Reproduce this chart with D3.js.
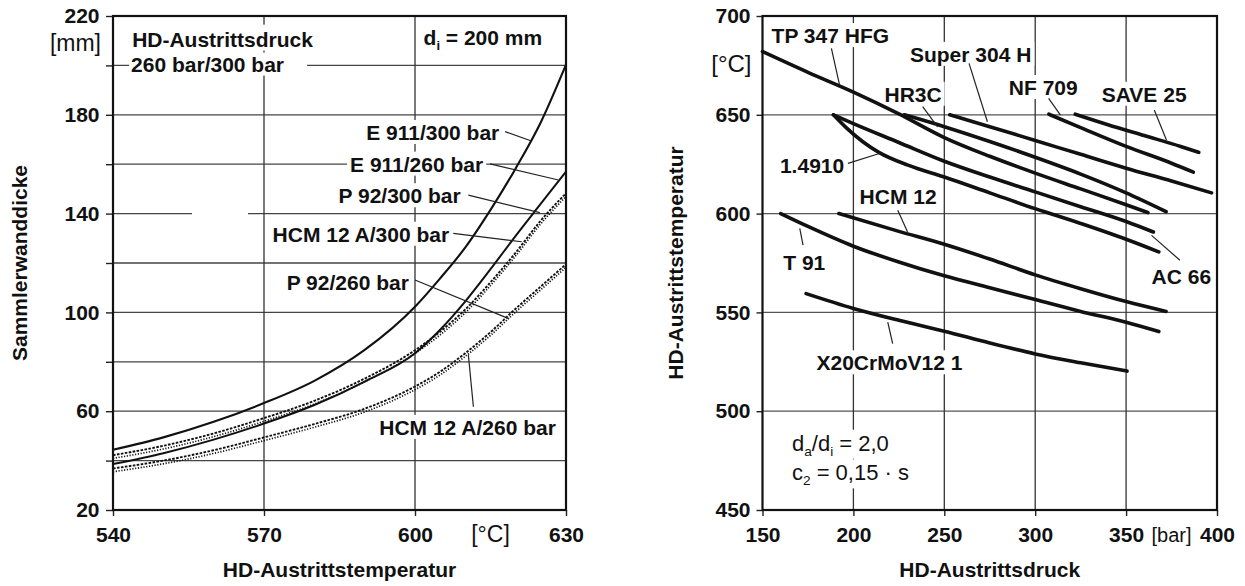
<!DOCTYPE html>
<html><head><meta charset="utf-8">
<script src="https://cdn.jsdelivr.net/npm/d3@7"></script>
<style>
body{margin:0;background:#fff;}
svg{display:block;}
text{font-family:"Liberation Sans",Arial,Helvetica,sans-serif;fill:#111;}
</style></head><body>
<svg id="c" width="1245" height="586"></svg>
<script>
// ---------- LEFT CHART DATA (wall thickness vs. temperature) ----------
const tempC      = [540, 550, 560, 570, 580, 590, 600, 605, 610, 615, 620, 625, 630];
const e911_300   = [44.4, 49.4, 55.7, 63.3, 72.3, 84.8, 102.3, 113.8, 126.3, 141.5, 158.3, 177, 200.3];
const e911_260   = [38.6, 43, 48.5, 55, 62.5, 72, 83.5, 93, 104.5, 117.5, 131, 144, 157];
const p92_300    = [42.2, 46, 51, 57.2, 64.2, 73.2, 84.7, 92.2, 101.2, 112.2, 124.2, 137.2, 148.2];
const hcm12a_300 = [40.9, 44.7, 49.7, 55.9, 62.9, 71.9, 83.4, 90.9, 99.9, 110.9, 122.9, 135.9, 146.9];
const p92_260    = [36.8, 40, 44.2, 49.4, 54.8, 61, 70, 76, 83.5, 92, 101.5, 110.5, 119.5];
const hcm12a_260 = [35.5, 38.7, 42.9, 48.1, 53.5, 59.7, 68.7, 74.7, 82.2, 90.7, 100.2, 109.2, 118.2];
const leftYTicks  = [20, 40, 60, 80, 100, 120, 140, 160, 180, 200, 220];
const leftYLabels = [20, 60, 100, 140, 180, 220];
const leftXTicks  = [540, 570, 600, 630];

// ---------- RIGHT CHART DATA (temperature vs. pressure) ----------
const tp347_p = [150, 175, 200, 225, 250, 275, 300, 325, 350, 362];
const tp347_T = [682, 671.5, 661.5, 650.5, 638.5, 629, 620.5, 612.5, 604.5, 600.5];
const hr3c_p  = [228, 250, 275, 300, 325, 350, 372];
const hr3c_T  = [650, 644, 636.5, 628.5, 620, 610.5, 601];
const ac66_p  = [189, 200, 225, 250, 275, 300, 325, 350, 365];
const ac66_T  = [650, 645.5, 636, 626.5, 618.5, 611, 603.5, 596, 590.7];
const m14910_p = [189, 196, 205, 214, 230, 250, 275, 300, 325, 350, 368];
const m14910_T = [650, 643.5, 636.5, 631, 624.5, 618.5, 610.5, 602.5, 595, 587, 580.6];
const s304_p  = [253, 275, 300, 325, 350, 375, 397];
const s304_T  = [650, 644, 637, 630, 623, 616.5, 610.5];
const nf709_p = [307.5, 325, 350, 375, 387];
const nf709_T = [650.3, 643.5, 634, 625.5, 621];
const save25_p = [322, 340, 360, 380, 390];
const save25_T = [650.3, 645, 639.5, 634, 631];
const hcm12_p = [192, 225, 250, 275, 300, 325, 350, 372];
const hcm12_T = [600, 591, 584.5, 577, 569, 562, 555.5, 550.5];
const t91_p   = [160, 175, 200, 225, 250, 275, 300, 325, 350, 368];
const t91_T   = [600, 593.5, 583.5, 575.5, 568.5, 562.5, 556.5, 550.5, 545, 540.3];
const x20_p   = [174, 200, 225, 250, 275, 300, 325, 350.5];
const x20_T   = [559.5, 552, 546, 540.5, 534.5, 529, 524.5, 520.3];
const rightYTicks = [450, 500, 550, 600, 650, 700];
const rightXTicks = [150, 200, 250, 300, 350, 400];

// ---------- ANNOTATIONS (data units) ----------
const leftLabels = [
  {t:"E 911/300 bar", x:590.3, y:169.8, px:[617.9,173.2,623.0,169.5]},
  {t:"E 911/260 bar", x:587.1, y:157.0, px:[614.9,160.1,628.5,153.6]},
  {t:"P 92/300 bar", x:584.8, y:144.2, px:[610.6,147.5,624.8,140.4]},
  {t:"HCM 12 A/300 bar", x:571.7, y:128.6, px:[607.6,132.0,621.2,128.6]},
  {t:"P 92/260 bar", x:574.5, y:109.1, px:[600.0,113.1,618.5,97.6]},
  {t:"HCM 12 A/260 bar", x:592.9, y:50.4, px:[611.6,61.8,610.6,82.8]}
];
const rightLabels = [
  {t:"TP 347 HFG", x:155, y:686.3, px:[187.9,683.6,192.4,665]},
  {t:"Super 304 H", x:231.1, y:676.8, px:[263.6,676,273.7,646.5]},
  {t:"NF 709", x:285.5, y:660, px:[307.4,658.3,313.9,649.8]},
  {t:"SAVE 25", x:336.6, y:656.6, px:[365.5,652.4,372.2,637.2]},
  {t:"HR3C", x:217.1, y:656.6, px:[238.1,654.1,246.3,643.9]},
  {t:"1.4910", x:159.6, y:620.3, px:[197,625.4,214.3,630.4]},
  {t:"HCM 12", x:203.4, y:605.1, px:[224.4,601.7,229.8,590.7]},
  {t:"T 91", x:161.4, y:571.3, px:[172.3,584,170.5,592.5]},
  {t:"X20CrMoV12 1", x:179.7, y:520.7, px:[221.6,534.2,218.9,545.1]},
  {t:"AC 66", x:364, y:564.6, px:[379.6,576.4,364,589]}
];

const svg = d3.select("#c");
const FONT = 21;

// scales
const xL = d3.scaleLinear().domain([540, 630]).range([113, 566]);
const yL = d3.scaleLinear().domain([20, 220]).range([510, 16]);
const xR = d3.scaleLinear().domain([150, 400]).range([762.5, 1217]);
const yR = d3.scaleLinear().domain([450, 700]).range([510, 16]);

const L = {
  grid: svg.append("g"),
  bg: svg.append("g"),
  curves: svg.append("g"),
  ptr: svg.append("g"),
  txt: svg.append("g"),
  frame: svg.append("g")
};

function addText(layer, bgLayer, x, y, parts, opts){
  opts = opts || {};
  const size = opts.size || FONT;
  const t = layer.append("text").attr("x", x).attr("y", y)
    .attr("font-size", size)
    .attr("font-weight", opts.weight || "bold")
    .attr("text-anchor", opts.anchor || "start");
  let shifted = 0;
  parts.forEach(p => {
    const sp = t.append("tspan").text(p.t);
    if (p.sub) { sp.attr("font-size", size*0.62).attr("dy", 5 - shifted); shifted = 5; }
    else if (shifted) { sp.attr("dy", -shifted); shifted = 0; }
  });
  if (bgLayer && opts.bg !== false){
    const b = t.node().getBBox();
    const pad = opts.pad || [3,1,3,0];
    bgLayer.append("rect").attr("x", b.x - pad[0]).attr("y", b.y - pad[1])
      .attr("width", b.width + pad[0] + pad[2]).attr("height", b.height + pad[1] + pad[3])
      .attr("fill", "#fff");
  }
  return t;
}

function styleAxis(a){
  a.select(".domain").remove();
  a.selectAll("line").attr("stroke", "#222").attr("stroke-width", 1.4);
  a.selectAll("text").attr("font-size", FONT).attr("font-weight", "bold").attr("fill", "#111")
    .attr("font-family", '"Liberation Sans",Arial,sans-serif');
}

// ================= LEFT CHART =================
L.grid.selectAll(".hl").data(leftYTicks.filter(d => d > 20 && d < 220)).join("line")
  .attr("x1", xL(540)).attr("x2", xL(630)).attr("y1", d => yL(d)).attr("y2", d => yL(d))
  .attr("stroke", "#444").attr("stroke-width", 1.3);
L.grid.selectAll(".vl").data([570, 600]).join("line")
  .attr("x1", d => xL(d)).attr("x2", d => xL(d)).attr("y1", yL(220)).attr("y2", yL(20))
  .attr("stroke", "#333").attr("stroke-width", 1.3);
// small gap in the 140 gridline (as in the scan)
L.bg.append("rect").attr("x", 192).attr("y", yL(140) - 3).attr("width", 56).attr("height", 6).attr("fill", "#fff");

const axL = L.frame.append("g").attr("transform", `translate(${xL(540)},0)`)
  .call(d3.axisLeft(yL).tickValues(leftYTicks).tickSize(7).tickPadding(6.5)
    .tickFormat(d => leftYLabels.includes(d) ? d : ""));
const axLB = L.frame.append("g").attr("transform", `translate(0,${yL(20)})`)
  .call(d3.axisBottom(xL).tickValues(leftXTicks).tickSize(6).tickPadding(11).tickFormat(d => d));
styleAxis(axL); styleAxis(axLB);

const lineL = d3.line().x((d, i) => xL(tempC[i])).y(d => yL(d)).curve(d3.curveMonotoneX);
const leftSeries = [
  {v: e911_300, w: 2.1, dash: null},
  {v: e911_260, w: 2.0, dash: null},
  {v: p92_300, w: 1.9, dash: "2.6,1.4"},
  {v: hcm12a_300, w: 1.7, dash: "1.2,1.6"},
  {v: p92_260, w: 1.9, dash: "2.6,1.4"},
  {v: hcm12a_260, w: 1.7, dash: "1.2,1.6"}
];
L.curves.selectAll("path").data(leftSeries).join("path")
  .attr("d", d => lineL(d.v)).attr("fill", "none").attr("stroke", "#111")
  .attr("stroke-width", d => d.w).attr("stroke-dasharray", d => d.dash);

leftLabels.forEach(l => {
  addText(L.txt, L.bg, xL(l.x), yL(l.y), [{t:l.t}]);
  L.ptr.append("line").attr("x1", xL(l.px[0])).attr("y1", yL(l.px[1]))
    .attr("x2", xL(l.px[2])).attr("y2", yL(l.px[3])).attr("stroke", "#222").attr("stroke-width", 1.2);
});
addText(L.txt, L.bg, xL(543.8), yL(207.6), [{t:"HD-Austrittsdruck"}], {pad:[4,3,5,0]});
addText(L.txt, L.bg, xL(543.6), yL(197.5), [{t:"260 bar/300 bar"}], {pad:[2,0,23,0]});
addText(L.txt, L.bg, xL(601.7), yL(208.3), [{t:"d"},{t:"i",sub:true},{t:" = 200 mm"}]);
addText(L.txt, null, xL(540) - 12, yL(220) + 35, [{t:"[mm]"}], {weight:"normal", anchor:"end", size:23});
addText(L.txt, null, xL(615), yL(20) + 32, [{t:"[°C]"}], {weight:"normal", anchor:"middle", size:23});
L.txt.append("text").attr("transform", `translate(27,${(yL(20)+yL(220))/2}) rotate(-90)`)
  .attr("text-anchor", "middle").attr("font-size", FONT).attr("font-weight", "bold").text("Sammlerwanddicke");
L.txt.append("text").attr("x", (xL(540)+xL(630))/2).attr("y", 577)
  .attr("text-anchor", "middle").attr("font-size", FONT).attr("font-weight", "bold").text("HD-Austrittstemperatur");
L.frame.append("rect").attr("x", xL(540)).attr("y", yL(220)).attr("width", xL(630)-xL(540)).attr("height", yL(20)-yL(220))
  .attr("fill", "none").attr("stroke", "#111").attr("stroke-width", 2.2);

// ================= RIGHT CHART =================
L.grid.selectAll(".hr").data(rightYTicks.filter(d => d > 450 && d < 700)).join("line")
  .attr("x1", xR(150)).attr("x2", xR(400)).attr("y1", d => yR(d)).attr("y2", d => yR(d))
  .attr("stroke", "#555").attr("stroke-width", 1.2);
L.grid.selectAll(".vr").data(rightXTicks.filter(d => d > 150 && d < 400)).join("line")
  .attr("x1", d => xR(d)).attr("x2", d => xR(d)).attr("y1", yR(700)).attr("y2", yR(450))
  .attr("stroke", "#333").attr("stroke-width", 1.3);

const axR = L.frame.append("g").attr("transform", `translate(${xR(150)},0)`)
  .call(d3.axisLeft(yR).tickValues(rightYTicks).tickSize(6).tickPadding(6).tickFormat(d => d));
const axRB = L.frame.append("g").attr("transform", `translate(0,${yR(450)})`)
  .call(d3.axisBottom(xR).tickValues(rightXTicks).tickSize(6).tickPadding(11).tickFormat(d => d));
styleAxis(axR); styleAxis(axRB);

const lineR = d3.line().curve(d3.curveMonotoneX);
const rightSeries = [
  [tp347_p, tp347_T], [hr3c_p, hr3c_T], [ac66_p, ac66_T], [m14910_p, m14910_T],
  [s304_p, s304_T], [nf709_p, nf709_T], [save25_p, save25_T],
  [hcm12_p, hcm12_T], [t91_p, t91_T], [x20_p, x20_T]
];
L.curves.selectAll(".rs").data(rightSeries).join("path")
  .attr("d", d => lineR(d[0].map((p, i) => [xR(p), yR(d[1][i])])))
  .attr("fill", "none").attr("stroke", "#111").attr("stroke-width", 3.6).attr("stroke-linecap", "round");

rightLabels.forEach(l => {
  addText(L.txt, L.bg, xR(l.x), yR(l.y), [{t:l.t}]);
  L.ptr.append("line").attr("x1", xR(l.px[0])).attr("y1", yR(l.px[1]))
    .attr("x2", xR(l.px[2])).attr("y2", yR(l.px[3])).attr("stroke", "#222").attr("stroke-width", 1.2);
});
addText(L.txt, L.bg, xR(166.2), yR(480), [{t:"d"},{t:"a",sub:true},{t:"/d"},{t:"i",sub:true},{t:" = 2,0"}], {weight:"normal", size:22});
addText(L.txt, L.bg, xR(166.2), yR(465), [{t:"c"},{t:"2",sub:true},{t:" = 0,15 · s"}], {weight:"normal", size:22});
addText(L.txt, null, xR(150) - 11, yR(700) + 56, [{t:"[°C]"}], {weight:"normal", anchor:"end", size:24});
addText(L.txt, null, xR(375), yR(450) + 32, [{t:"[bar]"}], {weight:"normal", anchor:"middle", size:20});
L.txt.append("text").attr("transform", `translate(683,${(yR(450)+yR(700))/2}) rotate(-90)`)
  .attr("text-anchor", "middle").attr("font-size", FONT).attr("font-weight", "bold").text("HD-Austrittstemperatur");
L.txt.append("text").attr("x", (xR(150)+xR(400))/2).attr("y", 577)
  .attr("text-anchor", "middle").attr("font-size", FONT).attr("font-weight", "bold").text("HD-Austrittsdruck");
L.frame.append("rect").attr("x", xR(150)).attr("y", yR(700)).attr("width", xR(400)-xR(150)).attr("height", yR(450)-yR(700))
  .attr("fill", "none").attr("stroke", "#111").attr("stroke-width", 2.2);
</script>
</body></html>
